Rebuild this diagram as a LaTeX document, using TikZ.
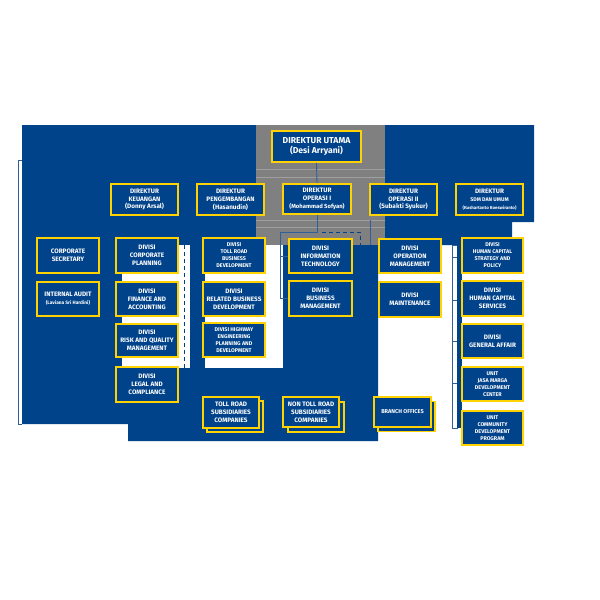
\documentclass[tikz,border=0pt]{standalone}
\usepackage{fontspec}
\setmainfont{Fira Sans}
\definecolor{jmblue}{HTML}{00438A}
\definecolor{jmyellow}{HTML}{FFD200}
\definecolor{jmgrey}{HTML}{808080}
\definecolor{jmlgrey}{HTML}{A0A0A0}
\definecolor{jmline}{HTML}{2E5E9C}
\begin{document}
\begin{tikzpicture}[x=1pt,y=-1pt,
  box/.style={draw=jmyellow, fill=jmblue, line width=1.6pt, text=white, align=center, inner sep=0pt},
  fbig/.style={font=\bfseries\fontsize{8.6}{10.5}\selectfont},
  fmid/.style={font=\bfseries\fontsize{6.4}{7.9}\selectfont},
  fsml/.style={font=\bfseries\fontsize{5.4}{7}\selectfont},
  wide/.style={minimum width=62pt},
  conn/.style={draw=jmline, line width=0.9pt},
  dconn/.style={draw=jmblue, line width=0.9pt, dash pattern=on 4pt off 3pt},
  gline/.style={draw=jmlgrey, line width=0.8pt}]
\useasboundingbox (0,0) rectangle (600,600);
% background regions
\fill[jmblue] (22,125) -- (534,125) -- (534,222) -- (512,222) -- (512,245) -- (378,245)
  -- (378,441) -- (128,441) -- (128,424) -- (22,424) -- cycle;
\fill[white] (122,245) rectangle (190,368);
\fill[white] (205,245) rectangle (283,368);
\fill[jmgrey] (256,125) rectangle (385,245);
\draw[gline] (256,169) -- (385,169);
\draw[gline] (256,177) -- (385,177);
\draw[gline] (256,220) -- (385,220);
\draw[gline] (256,227) -- (385,227);
% left frame
\draw[jmline, line width=0.8pt] (22,160) -- (18,160) -- (18,424) -- (22,424);
% right bracket
\draw[jmline, line width=0.8pt, fill=white] (452,245) rectangle (457,428);
\fill[jmblue] (457,245) rectangle (462,428);
\foreach \yy in {257,300,341,383} \draw[jmline, line width=0.8pt] (452,\yy) -- (457,\yy);
% dashed separator
\draw[dconn] (184,245) -- (184,368);

% director level
\node[box, fbig, minimum width=89pt, minimum height=31pt] (utama) at (316.5,146.5) {DIREKTUR UTAMA\\(Desi Arryani)};
\node[box, fmid, minimum width=67pt, minimum height=31pt] (keu) at (144.5,199.5) {DIREKTUR\\KEUANGAN\\(Donny Arsal)};
\node[box, fmid, minimum width=67pt, minimum height=31pt] (peng) at (230.5,199.5) {DIREKTUR\\PENGEMBANGAN\\(Hasanudin)};
\node[box, fmid, minimum width=68pt, minimum height=30pt] (op1) at (317,199) {DIREKTUR\\OPERASI I\\{\fontsize{5.9}{7.9}\selectfont(Mohammad Sofyan)}};
\node[box, fmid, minimum width=67pt, minimum height=31pt] (op2) at (403.5,199.5) {DIREKTUR\\OPERASI II\\(Subakti Syukur)};
\node[box, fmid, minimum width=67pt, minimum height=31pt] (sdm) at (489.5,199.5) {DIREKTUR\\{\fontsize{5.3}{7.9}\selectfont SDM DAN UMUM}\\{\fontsize{4.4}{7.9}\selectfont(Kushartanto Koeswiranto)}};

% connectors
\coordinate (j1) at (317,232);
\coordinate (j2) at (280,232);
\coordinate (j3) at (280,298);
\coordinate (d1) at (322,232);
\coordinate (d2) at (360,232);
\coordinate (d3) at (360,245);
\coordinate (r1) at (370,220);
\coordinate (r2) at (370,245);
\draw[conn] (utama.south) -- (op1.north);
\draw[conn] (op1.south) -- (j1) -- (j2) -- (j3);
\draw[dconn] (d1) -- (d2) -- (d3);
\draw[conn] (r1) -- (r2);

% divisions
\node[box, fmid, wide, minimum height=35pt] (corsec) at (68,255.5) {CORPORATE\\SECRETARY};
\node[box, fmid, wide, minimum height=34pt] (audit) at (68,299) {INTERNAL AUDIT\\{\fontsize{4.8}{7}\selectfont(Laviana Sri Hardini)}};
\node[box, fmid, wide, minimum height=35pt] (cp) at (147,255.5) {DIVISI\\CORPORATE\\PLANNING};
\node[box, fmid, wide, minimum height=34pt] (fa) at (147,299) {DIVISI\\FINANCE AND\\ACCOUNTING};
\node[box, fmid, wide, minimum height=33pt] (rqm) at (147,340.5) {DIVISI\\RISK AND QUALITY\\MANAGEMENT};
\node[box, fmid, wide, minimum height=35pt] (legal) at (147,384.5) {DIVISI\\LEGAL AND\\COMPLIANCE};
\node[box, fsml, wide, minimum height=35pt] (trbd) at (234,255.5) {DIVISI\\TOLL ROAD\\BUSINESS\\DEVELOPMENT};
\node[box, fmid, wide, minimum height=34pt] (rbd) at (234,299) {DIVISI\\RELATED BUSINESS\\DEVELOPMENT};
\node[box, fsml, wide, minimum height=34pt] (hepd) at (234,340) {DIVISI HIGHWAY\\ENGINEERING\\PLANNING AND\\DEVELOPMENT};
\node[box, fmid, minimum width=63pt, minimum height=34pt] (it) at (320.5,256) {DIVISI\\INFORMATION\\TECHNOLOGY};
\node[box, fmid, minimum width=63pt, minimum height=35pt] (bm) at (320.5,298.5) {DIVISI\\BUSINESS\\MANAGEMENT};
\node[box, fmid, wide, minimum height=34pt] (om) at (410,256) {DIVISI\\OPERATION\\MANAGEMENT};
\node[box, fmid, wide, minimum height=35pt] (mnt) at (410,299.5) {DIVISI\\MAINTENANCE};
\node[box, fsml, minimum width=61pt, minimum height=35pt] (hcsp) at (492.5,255.5) {DIVISI\\HUMAN CAPITAL\\STRATEGY AND\\POLICY};
\node[box, fmid, minimum width=61pt, minimum height=35pt] (hcs) at (492.5,298.5) {DIVISI\\HUMAN CAPITAL\\SERVICES};
\node[box, fmid, minimum width=61pt, minimum height=34pt] (ga) at (492.5,341) {DIVISI\\GENERAL AFFAIR};
\node[box, fsml, minimum width=61pt, minimum height=34pt] (jmdc) at (492.5,384) {UNIT\\JASA MARGA\\DEVELOPMENT\\CENTER};
\node[box, fsml, minimum width=61pt, minimum height=34pt] (cdp) at (492.5,428) {UNIT\\COMMUNITY\\DEVELOPMENT\\PROGRAM};

\draw[conn] (j2 |- it.west) -- (it.west);
\draw[conn] (j3) -- (bm.west |- j3);

% stacked boxes
\node[box, minimum width=56pt, minimum height=31pt] (trscb) at (235,416.5) {};
\node[box, fmid, minimum width=56pt, minimum height=31pt] (trsc) at (231,412.5) {TOLL ROAD\\SUBSIDIARIES\\COMPANIES};
\node[box, minimum width=56pt, minimum height=30pt] (ntrscb) at (316,417) {};
\node[box, fmid, minimum width=56pt, minimum height=30pt] (ntrsc) at (311,412) {NON TOLL ROAD\\SUBSIDIARIES\\COMPANIES};
\node[box, minimum width=57pt, minimum height=30pt] (branchb) at (406.5,416.5) {};
\node[box, font=\bfseries\fontsize{5.6}{7}\selectfont, minimum width=57pt, minimum height=30pt] (branch) at (402.5,412) {BRANCH OFFICES};
\end{tikzpicture}
\end{document}
